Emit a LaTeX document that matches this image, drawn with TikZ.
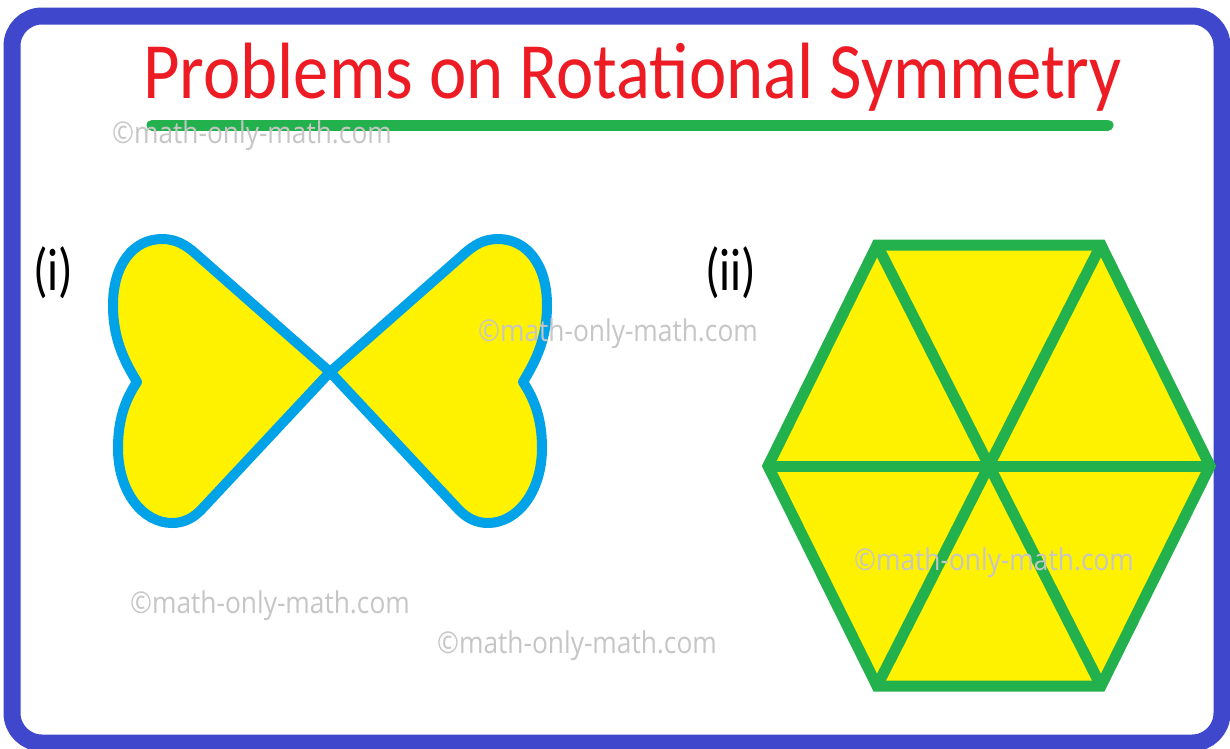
\documentclass[tikz,border=0pt]{standalone}
\usepackage{fontspec}
\usepackage{graphicx}
\setmainfont{Carlito}
\newfontfamily\wmfont{Open Sans}
\definecolor{bordercol}{RGB}{63,72,204}
\definecolor{titlered}{RGB}{237,28,36}
\definecolor{linegreen}{RGB}{34,177,76}
\definecolor{fillyellow}{RGB}{255,242,0}
\definecolor{heartblue}{RGB}{0,162,232}
\definecolor{wmgray}{RGB}{198,198,198}
\tikzset{
  wmark/.style={anchor=base west, inner sep=0pt, text=wmgray, font=\wmfont\fontsize{26.3}{26}\selectfont},
  lbl/.style={anchor=base west, inner sep=0pt, text=black, font=\fontsize{48}{48}\selectfont},
  hexline/.style={draw=linegreen, line width=11pt, line join=miter},
}
\newcommand{\heartpath}{(330,372) -- (196,254) .. controls (186,245) and (176,239) .. (162,239) .. controls (133,239) and (113,265) .. (113,305) .. controls (113,340) and (125,362) .. (137,382) .. controls (125,400) and (118,420) .. (118,448) .. controls (118,492) and (143,523) .. (172,523) .. controls (184,523) and (193,518) .. (201,510) -- cycle}
\begin{document}
\begin{tikzpicture}[x=1pt,y=-1pt]
\useasboundingbox (0,0) rectangle (1230,748);
\fill[white] (0,0) rectangle (1230,748);
% border
\draw[bordercol, line width=17pt, rounded corners=30pt] (12,16) rectangle (1222,743);
% title
\node[anchor=base west, inner sep=0pt, text=titlered, font=\fontsize{70.7}{70}\selectfont] (title) at (143,98) {\scalebox{1}[1.13]{Problems on Rotational Symmetry}};
\coordinate (ulA) at (152,125);
\coordinate (ulB) at (1108,125);
\draw[linegreen, line width=11pt, line cap=round] (ulA) -- (ulB);
% labels
\node[lbl] (l1) at (33,290) {\scalebox{1}[1.25]{(i)}};
\node[lbl] (l2) at (705,290) {\scalebox{1}[1.25]{(ii)}};
% butterfly hearts
\fill[fillyellow] \heartpath;
\begin{scope}[shift={(660,0)}, xscale=-1]
\fill[fillyellow] \heartpath;
\end{scope}
\draw[heartblue, line width=10pt, line join=round] \heartpath;
\begin{scope}[shift={(660,0)}, xscale=-1]
\draw[heartblue, line width=10pt, line join=round] \heartpath;
\end{scope}
% hexagon
\coordinate (TL) at (877,245);
\coordinate (TR) at (1101,245);
\coordinate (R) at (1210,466);
\coordinate (BR) at (1101,686);
\coordinate (BL) at (877,686);
\coordinate (L) at (768,466);
\coordinate (O) at (989,466);
\fill[fillyellow] (TL) -- (TR) -- (R) -- (BR) -- (BL) -- (L) -- cycle;
\draw[hexline] (TL) -- (BR);
\draw[hexline] (TR) -- (BL);
\draw[hexline] (L) -- (R);
\draw[hexline] (TL) -- (TR) -- (R) -- (BR) -- (BL) -- (L) -- cycle;
% watermarks
\node[wmark] (w1) at (112,143) {\scalebox{1}[1.14]{©math-only-math.com}};
\node[wmark] (w2) at (478,341) {\scalebox{1}[1.14]{©math-only-math.com}};
\node[wmark] (w3) at (130,613) {\scalebox{1}[1.14]{©math-only-math.com}};
\node[wmark] (w4) at (437,653) {\scalebox{1}[1.14]{©math-only-math.com}};
\node[wmark] (w5) at (854,570) {\scalebox{1}[1.14]{©math-only-math.com}};
\end{tikzpicture}
\end{document}
